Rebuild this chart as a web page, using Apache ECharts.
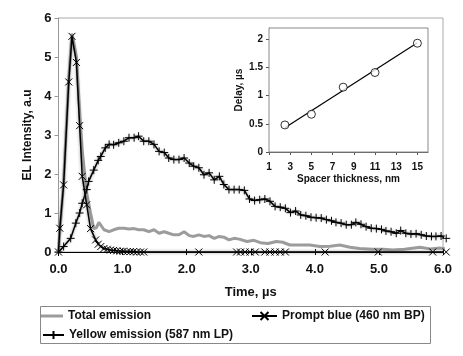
<!DOCTYPE html>
<html>
<head>
<meta charset="utf-8">
<script src="https://cdn.jsdelivr.net/npm/echarts@6/dist/echarts.min.js"></script>
<style>html,body{margin:0;padding:0;background:#fff;}#c{width:463px;height:356px;}</style>
</head>
<body>
<div id="c"></div>
<script>
// ---- Main chart data (Time, µs vs EL Intensity, a.u) ----
const totalT = [0,0.08,0.16,0.21,0.28,0.33,0.37,0.44,0.5,0.55,0.59,0.63,0.71,0.79,0.86,0.94,1.02,1.1,1.18,1.25,1.33,1.41,1.49,1.57,1.65,1.72,1.8,1.88,1.96,2.04,2.11,2.19,2.27,2.35,2.43,2.51,2.58,2.66,2.74,2.82,2.94,3.05,3.15,3.27,3.4,3.5,3.61,3.76,3.92,4.08,4.24,4.39,4.55,4.7,4.9,5.06,5.22,5.4,5.64,5.8,5.95,6.05];
const totalV = [0.05,1.8,4.45,5.6,5.0,3.6,2.6,1.5,1.0,0.6,0.62,0.76,0.57,0.52,0.57,0.61,0.61,0.59,0.6,0.57,0.57,0.52,0.57,0.48,0.52,0.48,0.44,0.44,0.52,0.42,0.4,0.44,0.4,0.42,0.35,0.4,0.38,0.31,0.35,0.33,0.27,0.3,0.24,0.22,0.27,0.25,0.18,0.18,0.18,0.14,0.15,0.18,0.12,0.09,0.07,0.07,0.05,0.07,0.12,0.08,0.1,0.08];

const blueT = [0,0.02,0.08,0.16,0.21,0.28,0.33,0.37,0.44,0.5,0.58,0.62,0.66,0.71,0.76,0.81,0.86,0.91,0.96,1.01,1.07,1.12,1.17,1.22,1.28,1.33,2.19,2.78,2.84,2.91,2.99,3.07,3.22,3.3,3.38,3.46,3.54,4.16,4.99,5.84,6.05];
const blueV = [0,0.61,1.72,4.36,5.53,4.86,3.24,1.94,1.21,0.6,0.31,0.2,0.14,0.09,0.07,0.05,0.04,0.03,0.02,0.02,0.01,0.01,0.01,0,0,0,0,0,0,0,0,0,0,0,0,0,0,0,0,0,0];

const yellowT = [0,0.08,0.19,0.27,0.33,0.37,0.44,0.47,0.55,0.62,0.66,0.73,0.79,0.86,0.94,1.02,1.1,1.18,1.25,1.33,1.41,1.49,1.57,1.65,1.72,1.8,1.88,1.96,2.04,2.11,2.19,2.27,2.35,2.43,2.51,2.58,2.66,2.74,2.82,2.9,2.98,3.06,3.14,3.22,3.3,3.38,3.46,3.54,3.62,3.7,3.78,3.86,3.94,4.02,4.1,4.18,4.26,4.33,4.41,4.49,4.57,4.64,4.72,4.8,4.88,4.96,5.04,5.11,5.19,5.27,5.34,5.42,5.5,5.58,5.66,5.74,5.82,5.89,5.97,6.05];
const yellowV = [0,0.14,0.35,0.74,1.0,1.25,1.6,1.81,2.1,2.35,2.45,2.67,2.76,2.75,2.8,2.84,2.93,2.93,2.97,2.84,2.84,2.76,2.58,2.55,2.41,2.37,2.37,2.41,2.28,2.2,2.16,1.98,2.03,1.85,1.94,1.73,1.6,1.6,1.6,1.58,1.36,1.32,1.34,1.36,1.3,1.17,1.15,1.12,1.01,1.05,0.95,0.93,0.89,0.88,0.87,0.83,0.8,0.76,0.74,0.7,0.7,0.76,0.71,0.65,0.61,0.6,0.58,0.54,0.52,0.48,0.55,0.48,0.46,0.47,0.44,0.41,0.4,0.4,0.41,0.35];

const xTickMin = 0, xTickMax = 6, xTickStep = 1;
const yTickMin = 0, yTickMax = 6, yTickStep = 1;

// ---- Inset data (Spacer thickness, nm vs Delay, µs) ----
const spacerNm = [2.5, 5, 8, 11, 15];
const delayUs = [0.48, 0.67, 1.15, 1.41, 1.93];
const fitNm = [2.5, 15];
const fitDelay = [0.43, 1.94];

const seriesNames = ['Total emission', 'Prompt blue (460 nm BP)', 'Yellow emission (587 nm LP)'];

const zip = (a, b) => a.map((v, i) => [v, b[i]]);
const FONT = 'Liberation Sans, Arial, sans-serif';
const xPath = 'path://M0,0L8,8M8,0L0,8';
const plusPath = 'path://M4,0L4,8M0,4L8,4';

const chart = echarts.init(document.getElementById('c'), null, {renderer: 'canvas'});
const halo = {shadowColor: 'rgba(110,110,110,0.8)', shadowBlur: 3};
const legText = {fontSize: 12, fontWeight: 'bold', color: '#111', fontFamily: FONT};

chart.setOption({
  animation: false,
  backgroundColor: '#fff',
  textStyle: {fontFamily: FONT},
  grid: [
    {left: 58.5, top: 18, width: 384.5, height: 234, show: true, borderColor: '#aaa', borderWidth: 1, backgroundColor: 'transparent'},
    {left: 269, top: 28, width: 159, height: 124, show: true, borderColor: '#888', borderWidth: 1, backgroundColor: '#fff', z: 5}
  ],
  xAxis: [
    {gridIndex: 0, type: 'value', min: xTickMin, max: xTickMax, interval: xTickStep, position: 'bottom',
     axisLine: {show: true, lineStyle: {color: '#000', width: 1}},
     axisTick: {show: true, inside: false, length: 3, lineStyle: {color: '#000'}},
     axisLabel: {color: '#111', fontSize: 13, fontWeight: 'bold', fontFamily: FONT, margin: 11, formatter: v => v.toFixed(1)},
     splitLine: {show: false},
     name: 'Time, µs', nameLocation: 'middle', nameGap: 34,
     nameTextStyle: {color: '#111', fontSize: 13, fontWeight: 'bold', fontFamily: FONT}},
    {gridIndex: 0, type: 'value', min: xTickMin, max: xTickMax, interval: xTickStep, position: 'bottom',
     axisLine: {show: false}, axisLabel: {show: false}, splitLine: {show: false},
     axisTick: {show: true, inside: true, length: 3, lineStyle: {color: '#000'}}},
    {gridIndex: 1, type: 'value', min: 1, max: 16, interval: 2,
     axisLine: {show: true, lineStyle: {color: '#555'}},
     axisTick: {show: true, inside: false, length: 3, lineStyle: {color: '#555'}},
     axisLabel: {color: '#111', fontSize: 10, fontWeight: 'bold', fontFamily: FONT, margin: 10, showMaxLabel: false},
     splitLine: {show: false},
     name: 'Spacer thickness, nm', nameLocation: 'middle', nameGap: 22,
     nameTextStyle: {color: '#111', fontSize: 10, fontWeight: 'bold', fontFamily: FONT}}
  ],
  yAxis: [
    {gridIndex: 0, type: 'value', min: yTickMin, max: yTickMax, interval: yTickStep,
     axisLine: {show: true, lineStyle: {color: '#999'}},
     axisTick: {show: true, inside: false, length: 4, lineStyle: {color: '#999'}},
     axisLabel: {color: '#111', fontSize: 13, fontWeight: 'bold', fontFamily: FONT, margin: 7},
     splitLine: {show: false},
     name: 'EL Intensity, a.u', nameLocation: 'middle', nameGap: 25,
     nameTextStyle: {color: '#111', fontSize: 12, fontWeight: 'bold', fontFamily: FONT}},
    {gridIndex: 1, type: 'value', min: 0, max: 2.2, interval: 0.5,
     axisLine: {show: true, lineStyle: {color: '#555'}},
     axisTick: {show: true, inside: false, length: 3, lineStyle: {color: '#555'}},
     axisLabel: {color: '#111', fontSize: 10, fontWeight: 'bold', fontFamily: FONT, margin: 6, showMaxLabel: false},
     splitLine: {show: false},
     name: 'Delay, µs', nameLocation: 'middle', nameGap: 25,
     nameTextStyle: {color: '#111', fontSize: 10, fontWeight: 'bold', fontFamily: FONT}}
  ],
  legend: [
    {data: [{name: seriesNames[0], icon: 'rect'}], left: 41, top: 310, itemWidth: 22, itemHeight: 3, padding: 0,
     itemStyle: {color: '#9c9c9c'}, textStyle: legText},
    {data: [seriesNames[1]], left: 251, top: 310, itemWidth: 25, itemHeight: 10, padding: 0,
     textStyle: legText},
    {data: [seriesNames[2]], left: 42, top: 329, itemWidth: 21, itemHeight: 10, padding: 0,
     textStyle: legText}
  ],
  graphic: [
    {type: 'rect', left: 38, top: 304, shape: {width: 390, height: 37},
     style: {fill: 'none', stroke: '#888', lineWidth: 1}, silent: true, z: -1}
  ],
  series: [
    {name: seriesNames[0], type: 'line', xAxisIndex: 0, yAxisIndex: 0, data: zip(totalT, totalV),
     showSymbol: false, symbol: 'none', clip: false, z: 2,
     lineStyle: {color: '#9c9c9c', width: 3}, itemStyle: {color: '#9c9c9c'}},
    {name: seriesNames[2], type: 'line', xAxisIndex: 0, yAxisIndex: 0, data: zip(yellowT, yellowV),
     symbol: plusPath, symbolSize: 8, clip: false, z: 3,
     lineStyle: Object.assign({color: '#000', width: 1.5}, halo),
     itemStyle: {color: '#000', borderColor: '#000', borderWidth: 1}},
    {name: seriesNames[1], type: 'line', xAxisIndex: 0, yAxisIndex: 0, data: zip(blueT, blueV),
     symbol: xPath, symbolSize: 7, clip: false, z: 4,
     lineStyle: Object.assign({color: '#000', width: 1.5}, halo),
     itemStyle: {color: '#000', borderColor: '#000', borderWidth: 1}},
    {name: 'Delay', type: 'scatter', xAxisIndex: 2, yAxisIndex: 1, data: zip(spacerNm, delayUs),
     symbol: 'circle', symbolSize: 8, z: 7,
     itemStyle: {color: '#fff', borderColor: '#000', borderWidth: 1}},
    {name: 'Fit', type: 'line', xAxisIndex: 2, yAxisIndex: 1, data: zip(fitNm, fitDelay),
     showSymbol: false, symbol: 'none', z: 6,
     lineStyle: {color: '#000', width: 1.2}}
  ]
});
</script>
</body>
</html>
